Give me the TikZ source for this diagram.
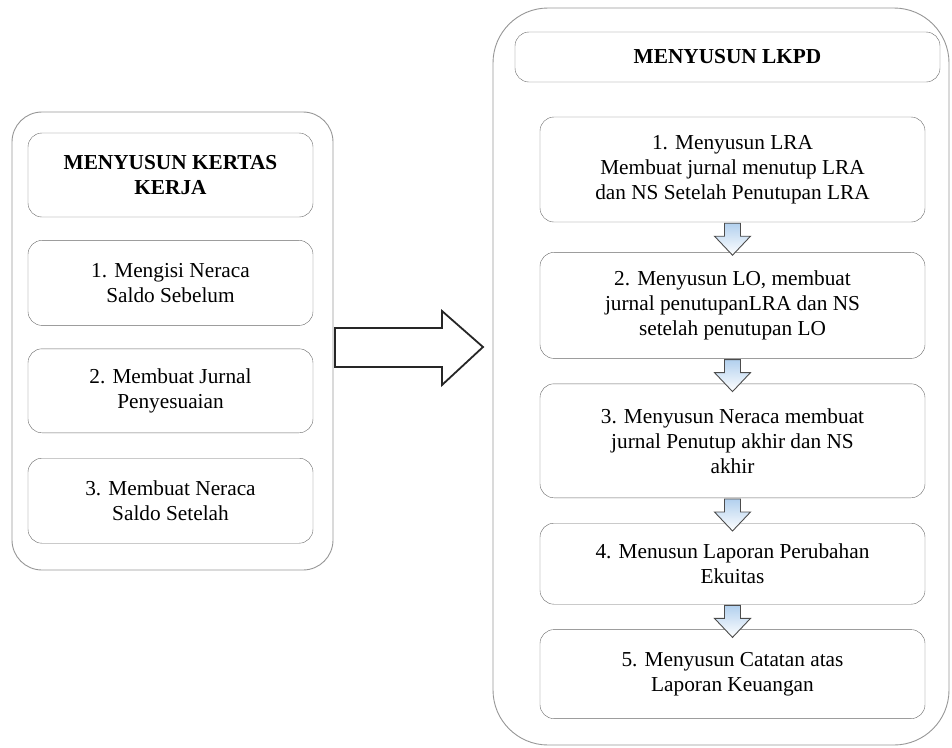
\documentclass[tikz,border=0pt]{standalone}
\usepackage{fontspec}
\setmainfont{Liberation Serif}
\usetikzlibrary{positioning,calc}
\definecolor{garis}{RGB}{105,105,105}
\definecolor{garisluar}{RGB}{150,150,150}
\definecolor{birumuda}{RGB}{178,208,238}
\tikzset{
  kotak/.style={draw=garis,rounded corners=14pt,align=center,inner sep=2pt},
  luar/.style={draw=garisluar,line width=0.9pt},
  panahkecil/.style={draw=black!70,line width=0.9pt,top color=birumuda,bottom color=white,line join=miter},
  panahbesar/.style={draw=black!85,line width=1.8pt,fill=white,line join=miter}
}
% panah kecil ke bawah di bawah node #1
\newcommand{\panahbawah}[1]{\path[panahkecil] ($(#1.south)+(-8,1)$) -- ++(16,0) -- ++(0,13) -- ++(10,0) -- ++(-18,19) -- ++(-18,-19) -- ++(10,0) -- cycle;}
\begin{document}
\begin{tikzpicture}[x=1pt,y=-1pt,font=\fontsize{21.3}{25}\selectfont]
\useasboundingbox (0,0) rectangle (952,747);
% kotak luar
\draw[luar,rounded corners=30pt] (12,112) rectangle (333,570);
\draw[luar,rounded corners=55pt] (493,8) rectangle (949,745);
% kiri: kertas kerja
\node[kotak,minimum width=285pt,minimum height=84pt] (k0) at (170.5,175) {\textbf{MENYUSUN KERTAS}\\\textbf{KERJA}};
\node[kotak,minimum width=285pt,minimum height=85pt,below=23pt of k0] (k1) {1. Mengisi Neraca\\Saldo Sebelum};
\node[kotak,minimum width=285pt,minimum height=84pt,below=23pt of k1] (k2) {2. Membuat Jurnal\\Penyesuaian};
\node[kotak,minimum width=285pt,minimum height=85pt,below=25pt of k2] (k3) {3. Membuat Neraca\\Saldo Setelah};
% panah besar
\draw[panahbesar] (335,328) -- (442,328) -- (442,311) -- (483,347) -- (442,385) -- (442,367) -- (335,367) -- cycle;
% kanan: LKPD
\node[kotak,minimum width=425pt,minimum height=50pt] (l0) at (727.5,57) {\textbf{MENYUSUN LKPD}};
\node[kotak,minimum width=385pt,minimum height=105pt] (l1) at (732.5,169.5) {1. Menyusun LRA\\Membuat jurnal menutup LRA\\dan NS Setelah Penutupan LRA};
\node[kotak,minimum width=385pt,minimum height=106pt,below=30pt of l1] (l2) {2. Menyusun LO, membuat\\jurnal penutupanLRA dan NS\\setelah penutupan LO};
\node[kotak,minimum width=385pt,minimum height=114pt,below=25pt of l2] (l3) {3. Menyusun Neraca membuat\\jurnal Penutup akhir dan NS\\akhir};
\node[kotak,minimum width=385pt,minimum height=81pt,below=25pt of l3] (l4) {4. Menusun Laporan Perubahan\\Ekuitas};
\node[kotak,minimum width=385pt,minimum height=89pt,below=25pt of l4] (l5) {5. Menyusun Catatan atas\\Laporan Keuangan};
\panahbawah{l1}
\panahbawah{l2}
\panahbawah{l3}
\panahbawah{l4}
\end{tikzpicture}
\end{document}
